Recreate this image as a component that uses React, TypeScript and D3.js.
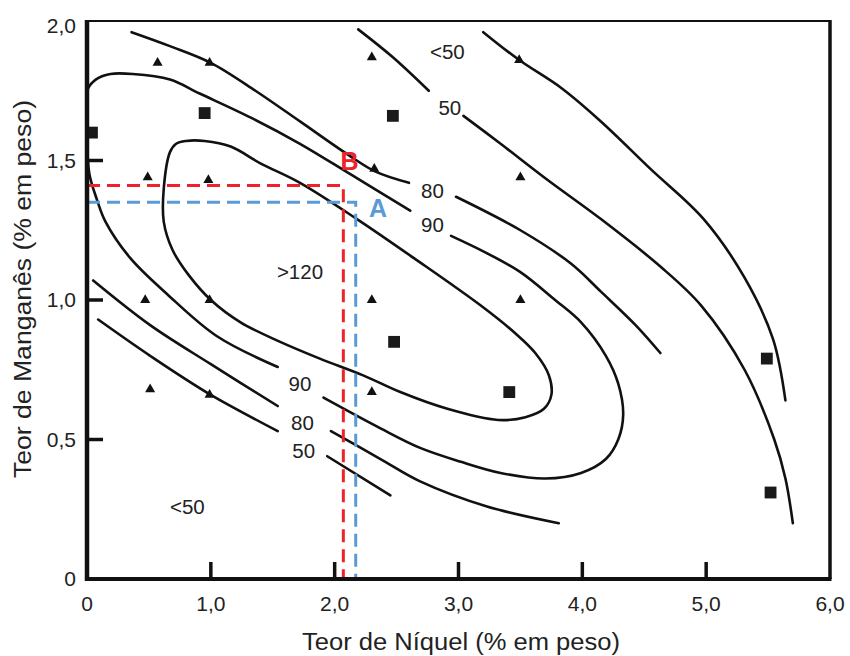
import React from 'react';
import * as d3 from 'd3';

// ---- axes ----
const xTicks = [0, 1, 2, 3, 4, 5, 6];
const xTickLabels = ['0', '1,0', '2,0', '3,0', '4,0', '5,0', '6,0'];
const yTicks = [0, 0.5, 1, 1.5, 2];
const yTickLabels = ['0', '0,5', '1,0', '1,5', '2,0'];
const xTitle = 'Teor de Níquel (% em peso)';
const yTitle = 'Teor de Manganês (% em peso)';

// ---- contour lines [Ni, Mn] ----
const contour80Upper = [[0.36, 1.96], [0.67, 1.91], [1.0, 1.85], [1.36, 1.75], [1.72, 1.64], [2.11, 1.52], [2.33, 1.46], [2.6, 1.42]];
const contour80Right = [[2.98, 1.37], [3.5, 1.25], [3.91, 1.13], [4.15, 1.03], [4.43, 0.91], [4.63, 0.81]];
const contour80LowerA = [[0.05, 1.07], [0.51, 0.91], [1.0, 0.77], [1.54, 0.62]];
const contour80LowerB = [[1.97, 0.53], [2.37, 0.43], [2.69, 0.35], [3.23, 0.26], [3.81, 0.2]];
const contour50UpperA = [[2.19, 1.97], [2.47, 1.87], [2.76, 1.75]];
const contour50UpperB = [[3.04, 1.66], [3.34, 1.56], [3.72, 1.43], [4.15, 1.29], [4.63, 1.12], [4.96, 0.98], [5.31, 0.75], [5.55, 0.5], [5.64, 0.36], [5.7, 0.2]];
const contour50LowerA = [[0.09, 0.93], [0.51, 0.8], [1.0, 0.66], [1.54, 0.53]];
const contour50LowerB = [[1.94, 0.44], [2.45, 0.3]];
const contourOuter = [[3.2, 1.96], [3.49, 1.86], [3.83, 1.76], [4.15, 1.64], [4.55, 1.47], [4.98, 1.29], [5.31, 1.08], [5.54, 0.86], [5.64, 0.64]];
const contour90Right = [[2.94, 1.23], [3.22, 1.17], [3.5, 1.1], [3.78, 1.0], [3.99, 0.92], [4.19, 0.8], [4.29, 0.7], [4.33, 0.59], [4.29, 0.5], [4.19, 0.43], [3.99, 0.38], [3.7, 0.36], [3.34, 0.38], [3.02, 0.42], [2.69, 0.47], [2.37, 0.54], [1.91, 0.65]];
const contour90Left = [[2.61, 1.32], [2.13, 1.45], [1.72, 1.56], [1.34, 1.65], [0.91, 1.74], [0.67, 1.79], [0.37, 1.81], [0.19, 1.81], [0.07, 1.79], [0.0, 1.75], [-0.01, 1.66], [0.0, 1.56], [0.02, 1.45], [0.08, 1.36], [0.15, 1.28], [0.35, 1.15], [0.65, 1.02], [1.05, 0.87], [1.54, 0.76]];
const contour120 = [[0.67, 1.53], [0.72, 1.56], [0.8, 1.57], [0.95, 1.57], [1.16, 1.55], [1.4, 1.49], [1.72, 1.42], [2.18, 1.29], [2.64, 1.15], [3.18, 0.98], [3.46, 0.88], [3.62, 0.81], [3.73, 0.73], [3.75, 0.66], [3.69, 0.61], [3.54, 0.58], [3.32, 0.57], [2.91, 0.61], [2.53, 0.67], [2.23, 0.73], [1.88, 0.79], [1.56, 0.85], [1.24, 0.92], [1.0, 1.0], [0.82, 1.09], [0.69, 1.18], [0.62, 1.28], [0.62, 1.4]];

const openContours = [contour80Upper, contour80Right, contour80LowerA, contour80LowerB, contour50UpperA, contour50UpperB, contour50LowerA, contour50LowerB, contourOuter, contour90Right, contour90Left];
const closedContours = [contour120];

// ---- contour labels ----
const contourLabelText = ['<50', '50', '80', '90', '>120', '90', '80', '50', '<50'];
const contourLabelX = [2.91, 2.93, 2.79, 2.79, 1.72, 1.72, 1.74, 1.75, 0.81];
const contourLabelY = [1.89, 1.69, 1.39, 1.27, 1.10, 0.70, 0.56, 0.46, 0.26];

// ---- experimental points ----
const trianglePoints = [[0.57, 1.85], [0.99, 1.85], [2.3, 1.87], [3.49, 1.86], [0.49, 1.44], [0.98, 1.43], [2.32, 1.47], [3.5, 1.44], [0.47, 1.0], [0.99, 1.0], [2.3, 1.0], [3.5, 1.0], [0.51, 0.68], [0.99, 0.66], [2.3, 0.67]];
const squarePoints = [[0.04, 1.6], [0.95, 1.67], [2.47, 1.66], [2.48, 0.85], [3.41, 0.67], [5.49, 0.79], [5.52, 0.31]];

// ---- reference points A / B ----
const refNames = ['B', 'A'];
const refNi = [2.07, 2.17];
const refMn = [1.41, 1.35];
const refColors = ['#ee2229', '#5b9bd5'];

const FONT = "'Liberation Sans', Arial, sans-serif";

export default function App() {
  const W = 850;
  const H = 656;
  const x = d3.scaleLinear().domain([0, 6]).range([87, 830]);
  const y = d3.scaleLinear().domain([0, 2]).range([579, 21]);

  const line = d3.line<number[]>().x(d => x(d[0])).y(d => y(d[1])).curve(d3.curveCatmullRom.alpha(0.5));
  const loop = d3.line<number[]>().x(d => x(d[0])).y(d => y(d[1])).curve(d3.curveCatmullRomClosed.alpha(0.5));
  const tri = d3.symbol().type(d3.symbolTriangle).size(44)() as string;
  const sq = d3.symbol().type(d3.symbolSquare).size(140)() as string;

  const x0 = x(0), x6 = x(6), y0 = y(0), y2 = y(2);

  return (
    <svg width={W} height={H} style={{ position: 'absolute', left: 0, top: 0, display: 'block', background: '#fff' }} fontFamily={FONT}>
      <defs>
        <clipPath id="plot">
          <rect x={x0} y={y2} width={x6 - x0} height={y0 - y2} />
        </clipPath>
      </defs>
      <rect x={0} y={0} width={W} height={H} fill="#fff" />

      <g clipPath="url(#plot)" fill="none" stroke="#111" strokeWidth={2.6} strokeLinecap="round">
        {openContours.map((c, i) => <path key={'o' + i} d={line(c) || ''} />)}
        {closedContours.map((c, i) => <path key={'c' + i} d={loop(c) || ''} />)}
      </g>

      {/* dashed guide lines */}
      {refNames.map((n, i) => (
        <path key={'g' + n}
          d={`M${x(0)},${y(refMn[i])}H${x(refNi[i])}V${y(0)}`}
          fill="none" stroke={refColors[i]} strokeWidth={3} strokeDasharray="13,7" />
      ))}

      {/* markers */}
      {trianglePoints.map((p, i) => (
        <path key={'t' + i} d={tri} transform={`translate(${x(p[0])},${y(p[1])})`} fill="#111" />
      ))}
      {squarePoints.map((p, i) => (
        <path key={'s' + i} d={sq} transform={`translate(${x(p[0])},${y(p[1])})`} fill="#1a1a1a" />
      ))}

      {/* contour labels */}
      {contourLabelText.map((t, i) => (
        <text key={'l' + i} x={x(contourLabelX[i])} y={y(contourLabelY[i])} dy="0.35em" textAnchor="middle" fontSize={20.5} fill="#222">{t}</text>
      ))}

      {/* A / B labels */}
      <text x={x(2.12)} y={y(1.5)} dy="0.36em" textAnchor="middle" fontSize={25} fontWeight="bold" fill={refColors[0]}>{refNames[0]}</text>
      <text x={x(2.35)} y={y(1.33)} dy="0.36em" textAnchor="middle" fontSize={25} fontWeight="bold" fill={refColors[1]}>{refNames[1]}</text>

      {/* frame */}
      <line x1={x0} x2={x6} y1={y2} y2={y2} stroke="#111" strokeWidth={2} />
      <line x1={x6} x2={x6} y1={y2 - 1} y2={y0} stroke="#111" strokeWidth={3.5} />
      <line x1={x0} x2={x0} y1={y2 - 1} y2={y0 + 2} stroke="#111" strokeWidth={4.5} />
      <line x1={x0 - 2} x2={x6 + 1.5} y1={y0} y2={y0} stroke="#111" strokeWidth={4} />

      {/* x ticks */}
      {xTicks.map((t, i) => (
        <g key={'xt' + i}>
          {i > 0 && i < xTicks.length - 1 && (
            <line x1={x(t)} x2={x(t)} y1={y0} y2={y0 - 17} stroke="#111" strokeWidth={3.5} />
          )}
          <text x={x(t)} y={y0 + 32} textAnchor="middle" fontSize={21} fill="#222">{xTickLabels[i]}</text>
        </g>
      ))}

      {/* y ticks */}
      {yTicks.map((t, i) => (
        <g key={'yt' + i}>
          {i > 0 && i < yTicks.length - 1 && (
            <line x1={x0} x2={x0 + 16} y1={y(t)} y2={y(t)} stroke="#111" strokeWidth={3.5} />
          )}
          <text x={76} y={y(t)} dy={i === yTicks.length - 1 ? '0.55em' : '0.35em'} textAnchor="end" fontSize={21} fill="#222">{yTickLabels[i]}</text>
        </g>
      ))}

      {/* titles */}
      <text x={461} y={650} textAnchor="middle" fontSize={23} fill="#222" textLength={318} lengthAdjust="spacingAndGlyphs">{xTitle}</text>
      <text transform={`translate(31,289) rotate(-90)`} textAnchor="middle" fontSize={23} fill="#222" textLength={378} lengthAdjust="spacingAndGlyphs">{yTitle}</text>
    </svg>
  );
}
